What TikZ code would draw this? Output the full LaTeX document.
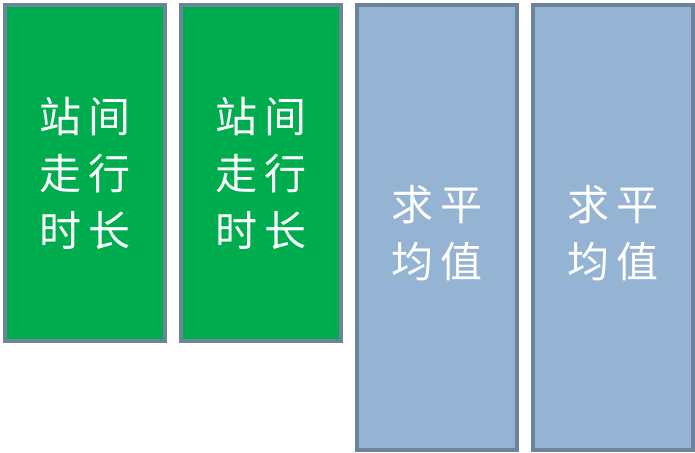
\documentclass[tikz,border=0pt]{standalone}
\usepackage{fontspec}
\newfontfamily\cjk{Noto Sans CJK SC}
\definecolor{bgreen}{HTML}{00AD4E}
\definecolor{bblue}{HTML}{95B3D2}
\definecolor{bedge}{HTML}{6B849B}
\begin{document}
\begin{tikzpicture}[x=1pt,y=1pt,
  cjktext/.style={text=white,font=\cjk\fontsize{42}{57}\selectfont,align=center},
  boxstyle/.style={draw=bedge,line width=3.5pt,inner sep=0pt,cjktext},
  greenbox/.style={boxstyle,fill=bgreen,minimum width=160pt,minimum height=336pt},
  bluebox/.style={boxstyle,fill=bblue,minimum width=160pt,minimum height=445pt}]
\useasboundingbox (0,0) rectangle (695,452);
\node[greenbox] (a) at (85,452-173) {站\hspace{7pt}间\\走\hspace{7pt}行\\时\hspace{7pt}长};
\node[greenbox] (b) at (261,452-173) {站\hspace{7pt}间\\走\hspace{7pt}行\\时\hspace{7pt}长};
\node[bluebox] (c) at (437,452-227.5) {};
\node[bluebox] (d) at (613,452-227.5) {};
\node[cjktext] (ct) at (437,452-233) {求\hspace{7pt}平\\均\hspace{7pt}值};
\node[cjktext] (dt) at (613,452-233) {求\hspace{7pt}平\\均\hspace{7pt}值};
\end{tikzpicture}
\end{document}
